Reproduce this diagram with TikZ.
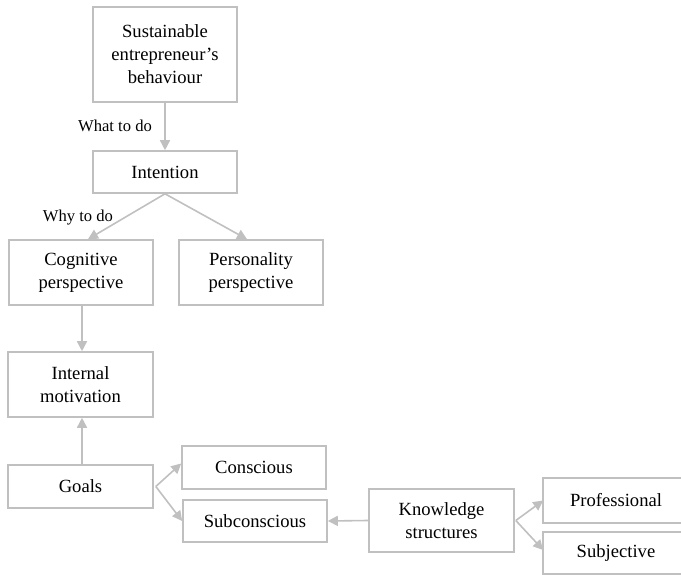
\documentclass[tikz,border=0pt]{standalone}
\usepackage{fontspec}
\setmainfont{Liberation Serif}
\usetikzlibrary{arrows.meta}
\definecolor{linegray}{HTML}{C0C0C0}
\tikzset{
  boxline/.style={draw=linegray, line width=1.6pt},
  box/.style={boxline, minimum width=144pt, align=center, inner sep=0pt,
    font=\fontsize{18.6}{23}\selectfont, text=black},
  conn/.style={draw=linegray, line width=1.6pt, -{Triangle[width=10pt,length=10pt]}},
  lbl/.style={font=\fontsize{16.6}{20}\selectfont, text=black, inner sep=0pt}
}
\begin{document}
\begin{tikzpicture}[x=1pt,y=-1pt]
\useasboundingbox (0,0) rectangle (681,575);
\clip (0,0) rectangle (681,575);
\node[box, minimum height=95pt] (sb) at (165,54.5) {Sustainable\\entrepreneur’s\\behaviour};
\node[box, minimum height=42pt] (in) at (165,172) {Intention};
\node[box, minimum height=65pt] (cog) at (81,272.5) {Cognitive\\perspective};
\node[box, minimum height=65pt] (per) at (251,272.5) {Personality\\perspective};
\node[box, minimum height=65pt, minimum width=145pt] (im) at (80.5,384.5) {Internal\\motivation};
\node[box, minimum height=43pt, minimum width=145pt] (goals) at (80.5,486.5) {Goals};
\node[box, minimum height=43pt] (con) at (254,467.5) {Conscious};
\node[box, minimum height=42pt] (sub) at (255,521) {Subconscious};
\node[box, minimum height=63pt, minimum width=145pt] (ks) at (441.5,520.5) {Knowledge\\structures};
\node[box, draw=none, minimum height=43pt] (pro) at (616,500.5) {Professional};
\node[box, draw=none, minimum height=40pt] (subj) at (616,553) {Subjective};
\draw[boxline] (pro.north west) rectangle ([xshift=40pt]pro.south east);
\draw[boxline] (subj.north west) rectangle ([xshift=40pt]subj.south east);
\node[lbl] (what) at (115,126) {What to do};
\node[lbl] (why) at (78,218) {Why to do};
\draw[conn] (sb.south) -- (in.north);
\draw[conn] (in.south) -- ([xshift=7pt]cog.north);
\draw[conn] (in.south) -- ([xshift=-4pt]per.north);
\draw[conn] ([xshift=1pt]cog.south) -- ([xshift=1.5pt]im.north);
\draw[conn] ([xshift=1.5pt]goals.north) -- ([xshift=1.5pt]im.south);
\draw[conn] ([xshift=2pt]goals.east) -- ([yshift=4pt]con.west);
\draw[conn] ([xshift=2pt]goals.east) -- (sub.west);
\draw[conn] (ks.west) -- (sub.east);
\draw[conn] ([xshift=1pt]ks.east) -- (pro.west);
\draw[conn] ([xshift=1pt]ks.east) -- ([yshift=3pt]subj.west);
\end{tikzpicture}
\end{document}
